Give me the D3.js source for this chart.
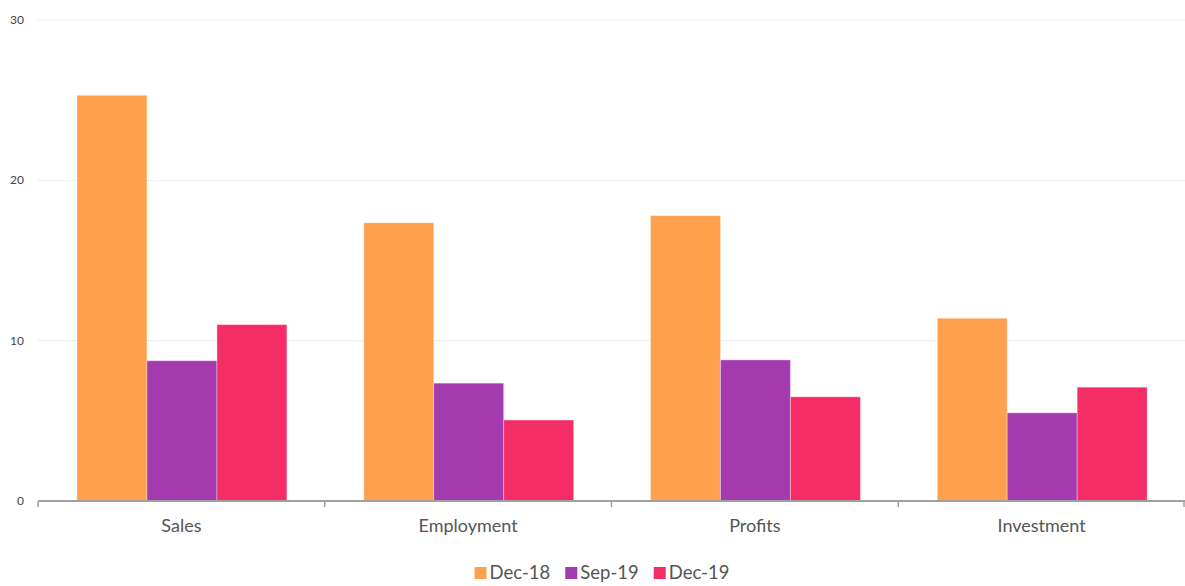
<!DOCTYPE html>
<html lang="en-US">
<head>
    <meta charset="utf-8">
    <script src="https://d3js.org/d3.v7.min.js"></script>
    <style>
        body { margin: 0; background: #fff; }
        text { font-family: Lato, "Noto Sans", sans-serif; }
        .grid line { stroke: #ebebeb; }
        .axis--x path, .axis--x line { stroke: #a0a0a0; }
    </style>
</head>
<body>
<div id="canvas"></div>
</body>
<script>
    var categories = ["Sales", "Employment", "Profits", "Investment"];
    var seriesNames = ["Dec-18", "Sep-19", "Dec-19"];
    var colors = ["#ffa04f", "#a33ab0", "#f52d67"];
    var dec18 = [25.3, 17.35, 17.8, 11.4];
    var sep19 = [8.75, 7.35, 8.8, 5.5];
    var dec19 = [11.0, 5.05, 6.5, 7.1];
    var yTicks = [0, 10, 20, 30];

    var series = [dec18, sep19, dec19];

    var svg = d3.select("#canvas")
        .append("svg")
        .attr("width", 1185)
        .attr("height", 586);

    var margin = { top: 20, right: 0, bottom: 85, left: 38 };
    var width = +svg.attr("width") - margin.left - margin.right;
    var height = +svg.attr("height") - margin.top - margin.bottom;

    var x = d3.scaleBand().domain(categories).range([0, width]).paddingInner(0).paddingOuter(0);
    var x1 = d3.scaleBand().domain(seriesNames).range([x.bandwidth() * 0.136, x.bandwidth() * 0.868]);
    var y = d3.scaleLinear().domain([0, 30]).range([height, 0]);

    var g = svg.append("g")
        .attr("transform", "translate(" + margin.left + "," + margin.top + ")");

    // gridlines
    g.append("g")
        .attr("class", "grid")
        .selectAll("line")
        .data(yTicks.filter(function (d) { return d > 0; }))
        .enter().append("line")
        .attr("x1", 0)
        .attr("x2", width)
        .attr("y1", function (d) { return y(d); })
        .attr("y2", function (d) { return y(d); });

    // y labels
    g.append("g")
        .selectAll("text")
        .data(yTicks)
        .enter().append("text")
        .attr("x", -14)
        .attr("y", function (d) { return y(d); })
        .attr("dy", "0.32em")
        .attr("text-anchor", "end")
        .attr("font-size", 12)
        .attr("fill", "#444")
        .text(function (d) { return d; });

    // bars
    var groups = g.selectAll(".group")
        .data(categories)
        .enter().append("g")
        .attr("class", "group")
        .attr("transform", function (d) { return "translate(" + x(d) + ",0)"; });

    groups.selectAll("rect")
        .data(function (d, i) {
            return series.map(function (s, j) { return { key: seriesNames[j], value: s[i], color: colors[j] }; });
        })
        .enter().append("rect")
        .attr("x", function (d) { return x1(d.key); })
        .attr("width", x1.bandwidth())
        .attr("y", function (d) { return y(d.value); })
        .attr("height", function (d) { return height - y(d.value); })
        .attr("fill", function (d) { return d.color; })
        .attr("stroke", "rgba(255,255,255,0.35)")
        .attr("stroke-width", 1);

    // x axis
    var boundaries = categories.map(function (c) { return x(c); }).concat([width]);
    var xAxis = g.append("g")
        .attr("class", "axis--x")
        .attr("transform", "translate(0," + height + ")");
    xAxis.append("line")
        .attr("x1", 0).attr("x2", width)
        .attr("stroke-width", 2);
    xAxis.selectAll(".tick")
        .data(boundaries)
        .enter().append("line")
        .attr("class", "tick")
        .attr("x1", function (d) { return Math.min(d, width - 1); })
        .attr("x2", function (d) { return Math.min(d, width - 1); })
        .attr("y1", 0).attr("y2", 6)
        .attr("stroke-width", 1.5);
    xAxis.selectAll(".lbl")
        .data(categories)
        .enter().append("text")
        .attr("class", "lbl")
        .attr("x", function (d) { return x(d) + x.bandwidth() / 2; })
        .attr("y", 31)
        .attr("text-anchor", "middle")
        .attr("font-size", 18)
        .attr("fill", "#555")
        .text(function (d) { return d; });

    // legend
    var legend = svg.append("g").attr("transform", "translate(0,573)");
    var items = legend.selectAll("g")
        .data(seriesNames)
        .enter().append("g");
    items.append("rect")
        .attr("width", 12).attr("height", 12)
        .attr("y", -6)
        .attr("fill", function (d, i) { return colors[i]; });
    items.append("text")
        .attr("x", 15)
        .attr("dy", "0.35em")
        .attr("font-size", 18.5)
        .attr("fill", "#555")
        .text(function (d) { return d; });
    var gap = 15, offset = 0, positions = [];
    items.each(function () {
        positions.push(offset);
        offset += this.getBBox().width + gap;
    });
    offset -= gap;
    var start = 602 - offset / 2;
    items.attr("transform", function (d, i) { return "translate(" + (start + positions[i]) + ",0)"; });
</script>
</html>
